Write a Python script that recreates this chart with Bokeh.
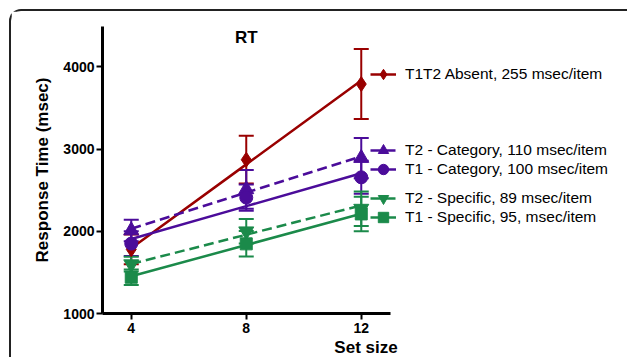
import numpy as np
from bokeh.plotting import figure
from bokeh.models import (ColumnDataSource, Whisker, TeeHead, Legend, LegendItem,
                          Range1d, FixedTicker, Label)
from bokeh.embed import file_html
from bokeh.resources import INLINE

# ---------------- data ----------------
set_size = [4, 8, 12]
x_ticks = [4, 8, 12]
y_ticks = [1000, 2000, 3000, 4000]

absent_rt = [1780, 2870, 3790]
absent_err = [180, 290, 425]
absent_slope = 255

t2_cat_rt = [2010, 2510, 2890]
t2_cat_err = [130, 235, 245]
t2_cat_slope = 110

t1_cat_rt = [1850, 2410, 2656]
t1_cat_err = [150, 160, 200]
t1_cat_slope = 100

t2_spec_rt = [1600, 2000, 2275]
t2_spec_err = [90, 150, 210]
t2_spec_slope = 89

t1_spec_rt = [1441, 1847, 2211]
t1_spec_err = [95, 155, 210]
t1_spec_slope = 95

labels = ["T1T2 Absent, 255 msec/item",
          "T2 - Category, 110 msec/item",
          "T1 - Category, 100 msec/item",
          "T2 - Specific, 89 msec/item",
          "T1 - Specific, 95, msec/item"]

RED = "#990000"
PURPLE = "#4B0C9A"
GREEN = "#1B8A4A"
FONT = "Liberation Sans"

p = figure(width=618, height=348, output_backend="svg", toolbar_location=None,
           x_range=Range1d(3, 21.33), y_range=Range1d(1000, 4490),
           min_border_left=91, min_border_top=15, min_border_right=0,
           min_border_bottom=46)
p.styles = {"margin-left": "9px", "margin-top": "9px",
            "border-top": "2px solid #222222", "border-left": "2px solid #222222",
            "border-top-left-radius": "12px"}
p.outline_line_color = None
p.grid.visible = False
p.background_fill_color = "white"

for ax in (p.xaxis[0], p.yaxis[0]):
    ax.axis_line_width = 3
    ax.axis_line_color = "black"
    ax.major_tick_line_width = 2
    ax.major_tick_line_color = "black"
    ax.major_tick_out = 6
    ax.major_tick_in = 0
    ax.minor_tick_line_color = None
    ax.major_label_text_font = FONT
    ax.major_label_text_font_style = "bold"
    ax.major_label_text_font_size = "14px"
    ax.major_label_text_color = "black"
    ax.axis_label_text_font = FONT
    ax.axis_label_text_font_style = "bold"
    ax.axis_label_text_font_size = "17px"
    ax.axis_label_text_color = "black"

p.xaxis.ticker = FixedTicker(ticks=x_ticks)
p.yaxis.ticker = FixedTicker(ticks=y_ticks)
p.xaxis.bounds = (3, 13)
p.xaxis.axis_label = "Set size"
p.yaxis.axis_label = "Response Time (msec)"
p.xaxis.major_label_standoff = 3
p.xaxis.axis_label_standoff = 2
p.yaxis.major_label_standoff = 2
p.yaxis.axis_label_standoff = 8

series = [
    (absent_rt, absent_err, absent_slope, RED, "diamond", 15, "solid"),
    (t2_cat_rt, t2_cat_err, t2_cat_slope, PURPLE, "triangle", 15, "10 5"),
    (t1_cat_rt, t1_cat_err, t1_cat_slope, PURPLE, "circle", 13, "solid"),
    (t2_spec_rt, t2_spec_err, t2_spec_slope, GREEN, "inverted_triangle", 15, "10 5"),
    (t1_spec_rt, t1_spec_err, t1_spec_slope, GREEN, "square", 12, "solid"),
]

items = []
xs = np.array(set_size, dtype=float)
for rt, err, slope, color, marker, size, dash in series:
    rt = np.array(rt, dtype=float)
    err = np.array(err, dtype=float)
    fit = rt.mean() + slope * (xs - xs.mean())
    src = ColumnDataSource(dict(x=xs, y=rt, up=rt + err, lo=rt - err, fit=fit))
    w = Whisker(source=src, base="x", upper="up", lower="lo",
                line_color=color, line_width=2,
                upper_head=TeeHead(size=15, line_color=color, line_width=2),
                lower_head=TeeHead(size=15, line_color=color, line_width=2))
    p.add_layout(w)
    lr = p.line("x", "fit", source=src, line_color=color, line_width=2.5, line_dash=dash)
    sr = p.scatter("x", "y", source=src, marker=marker, size=size,
                   fill_color=color, line_color=color)
    items.append([lr, sr])

# screen offsets (px from frame bottom-left) of each legend entry
legend_locs = [(268, 224), (268, 148), (268, 129), (268, 100), (268, 81)]
for i, loc in enumerate(legend_locs):
    leg = Legend(items=[LegendItem(label=labels[i], renderers=items[i])], location=loc)
    leg.border_line_color = None
    leg.background_fill_alpha = 0
    leg.padding = 0
    leg.margin = 0
    leg.spacing = 0
    leg.glyph_width = 26
    leg.glyph_height = 30
    leg.label_height = 30
    leg.label_standoff = 9
    leg.label_text_font = FONT
    leg.label_text_font_size = "15.5px"
    leg.label_text_color = "black"
    leg.label_text_baseline = "middle"
    p.add_layout(leg)

title = Label(x=8, y=4360, text="RT", text_align="center", text_baseline="middle",
              text_font=FONT, text_font_style="bold", text_font_size="17px",
              text_color="black")
p.add_layout(title)

open("out.html", "w").write(file_html(p, INLINE))
